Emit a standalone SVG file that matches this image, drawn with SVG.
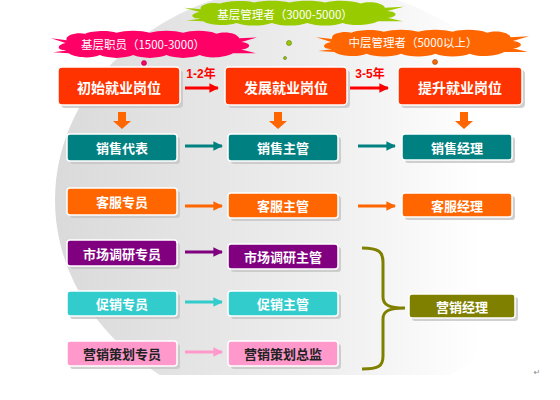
<svg xmlns="http://www.w3.org/2000/svg" width="560" height="400" viewBox="0 0 560 400">
<style>
.sh{fill:#c4c4c4;opacity:0.8}
.bx{stroke:#ffffff;stroke-width:1.5}
.t{font-family:"Noto Sans CJK SC","Noto Sans",sans-serif;font-weight:bold;fill:#ffffff;text-anchor:middle;dominant-baseline:central}
.tk{fill:#222222}
.ct{font-family:"Noto Sans CJK SC","Noto Sans",sans-serif;font-size:11.5px;fill:#ffffff;text-anchor:middle;dominant-baseline:central}
.yl{font-family:"Liberation Sans","Noto Sans CJK SC",sans-serif;font-weight:bold;font-size:12px;fill:#ff0000;text-anchor:middle}
.ln{stroke-width:3;fill:none}
</style>
<defs>
<linearGradient id="bg" x1="0" y1="0" x2="1" y2="0">
<stop offset="0" stop-color="#dadada"/>
<stop offset="0.55" stop-color="#efefef"/>
<stop offset="0.85" stop-color="#ffffff"/>
</linearGradient>
<clipPath id="cp"><rect x="0" y="0" width="560" height="375"/></clipPath>
<path id="cloud" d="M16,11 L1,9 L15,14 C6,16 6,22 16,22 L3,24 L18,25 C24,30 40,31 48,27 C56,31 72,31 80,27 C88,31 104,31 112,27 C120,31 136,31 144,27 C152,31 168,30 176,25 L198,25 L184,21 C194,20 194,14 184,13 L199,8 L182,9 C180,3 168,1 160,4 C152,0 136,0 128,3 C120,0 104,0 96,3 C88,0 72,0 64,3 C56,0 40,1 34,4 C26,2 14,5 16,11 Z"/>
<marker id="ah" viewBox="0 0 10 10" refX="9" refY="5" markerWidth="3.2" markerHeight="3.2" orient="auto" markerUnits="strokeWidth"><path d="M0,0 L10,5 L0,10 Z" fill="context-stroke"/></marker>
<marker id="aT" viewBox="0 0 10 10" refX="9" refY="5" markerWidth="3.2" markerHeight="3.2" orient="auto" markerUnits="strokeWidth"><path d="M0,0 L10,5 L0,10 Z" fill="#008080"/></marker>
<marker id="aO" viewBox="0 0 10 10" refX="9" refY="5" markerWidth="3.2" markerHeight="3.2" orient="auto" markerUnits="strokeWidth"><path d="M0,0 L10,5 L0,10 Z" fill="#ff6600"/></marker>
<marker id="aP" viewBox="0 0 10 10" refX="9" refY="5" markerWidth="3.2" markerHeight="3.2" orient="auto" markerUnits="strokeWidth"><path d="M0,0 L10,5 L0,10 Z" fill="#800080"/></marker>
<marker id="aC" viewBox="0 0 10 10" refX="9" refY="5" markerWidth="3.2" markerHeight="3.2" orient="auto" markerUnits="strokeWidth"><path d="M0,0 L10,5 L0,10 Z" fill="#33cccc"/></marker>
<marker id="aK" viewBox="0 0 10 10" refX="9" refY="5" markerWidth="3.2" markerHeight="3.2" orient="auto" markerUnits="strokeWidth"><path d="M0,0 L10,5 L0,10 Z" fill="#ff99cc"/></marker>
<marker id="aR" viewBox="0 0 10 10" refX="9" refY="5" markerWidth="3.2" markerHeight="3.2" orient="auto" markerUnits="strokeWidth"><path d="M0,0 L10,5 L0,10 Z" fill="#ff0000"/></marker>
<path id="down" d="M-4,0 L4,0 L4,9 L9,9 L0,17 L-9,9 L-4,9 Z"/>
</defs>

<rect width="560" height="400" fill="#ffffff"/>
<g clip-path="url(#cp)">
<ellipse cx="305" cy="200" rx="250" ry="215" fill="url(#bg)"/>
</g>

<!-- clouds -->
<g id="cloud-green">
<use href="#cloud" transform="translate(183,0) scale(1.11,0.85)" fill="#99cc00"/>
<text class="ct" x="285" y="14">基层管理者（3000-5000）</text>
</g>
<g id="cloud-pink">
<use href="#cloud" transform="translate(50,30) scale(1.04,0.93)" fill="#ff0066"/>
<text class="ct" x="143" y="44">基层职员（1500-3000）</text>
</g>
<g id="cloud-orange">
<use href="#cloud" transform="translate(315,29) scale(1.075,0.92)" fill="#ff6600"/>
<text class="ct" x="413" y="42">中层管理者（5000以上）</text>
</g>

<!-- connectors -->
<g id="connectors">
<line x1="185" y1="88" x2="218" y2="88" class="ln" stroke="#ff0000" marker-end="url(#aR)"/>
<line x1="350" y1="88" x2="388" y2="88" class="ln" stroke="#ff0000" marker-end="url(#aR)"/>
<text class="yl" x="201" y="78">1-2年</text>
<text class="yl" x="370" y="78">3-5年</text>
<use href="#down" x="122" y="112" fill="#ff6600"/>
<use href="#down" x="278" y="112" fill="#ff6600"/>
<use href="#down" x="464" y="112" fill="#ff6600"/>
<line x1="185" y1="146" x2="222" y2="146" class="ln" stroke="#008080" marker-end="url(#aT)"/>
<line x1="358" y1="146" x2="395" y2="146" class="ln" stroke="#008080" marker-end="url(#aT)"/>
<line x1="185" y1="206" x2="222" y2="206" class="ln" stroke="#ff6600" marker-end="url(#aO)"/>
<line x1="358" y1="206" x2="395" y2="206" class="ln" stroke="#ff6600" marker-end="url(#aO)"/>
<line x1="185" y1="252" x2="222" y2="252" class="ln" stroke="#800080" marker-end="url(#aP)"/>
<line x1="185" y1="302" x2="222" y2="302" class="ln" stroke="#33cccc" marker-end="url(#aC)"/>
<line x1="185" y1="352" x2="222" y2="352" class="ln" stroke="#ff99cc" marker-end="url(#aK)"/>
<path d="M362,248 C379,248 383,252 383,262 L383,297 C383,305 389,308 405,308 C389,308 383,311 383,319 L383,356 C383,366 379,369 362,369" stroke="#808000" stroke-width="3" fill="none"/>
<circle cx="144" cy="63" r="2.5" fill="#ff0066" stroke="#800040" stroke-width="0.5"/>
<circle cx="141" cy="71" r="1.5" fill="#ff0066" stroke="#600030" stroke-width="0.5"/>
<circle cx="139" cy="77" r="0.9" fill="#000000"/>
<circle cx="289" cy="43" r="2.5" fill="#99cc00" stroke="#556600" stroke-width="0.5"/>
<circle cx="285" cy="58" r="1.5" fill="#99cc00" stroke="#445500" stroke-width="0.5"/>
<circle cx="282" cy="72" r="0.9" fill="#000000"/>
<circle cx="435" cy="62" r="2.5" fill="#ff6600" stroke="#803300" stroke-width="0.5"/>
<circle cx="439" cy="71" r="1.5" fill="#ff6600" stroke="#602600" stroke-width="0.5"/>
<circle cx="444" cy="77" r="0.9" fill="#000000"/>
</g>

<!-- top row -->
<g id="n-chushi">
<rect class="sh" x="61" y="70" width="122" height="38" rx="4"/>
<rect class="bx" x="58" y="67" width="122" height="38" rx="4" fill="#ff3300"/>
<text class="t" x="119" y="87" font-size="14">初始就业岗位</text>
</g>
<g id="n-fazhan">
<rect class="sh" x="228" y="70" width="122" height="38" rx="4"/>
<rect class="bx" x="225" y="67" width="122" height="38" rx="4" fill="#ff3300"/>
<text class="t" x="286" y="87" font-size="14">发展就业岗位</text>
</g>
<g id="n-tisheng">
<rect class="sh" x="401" y="70" width="124" height="38" rx="4"/>
<rect class="bx" x="398" y="67" width="124" height="38" rx="4" fill="#ff3300"/>
<text class="t" x="460" y="87" font-size="14">提升就业岗位</text>
</g>

<!-- sales row -->
<g id="n-xsdb">
<rect class="sh" x="70" y="137" width="110" height="27" rx="3"/>
<rect class="bx" x="67" y="134" width="110" height="27" rx="3" fill="#008080"/>
<text class="t" x="122" y="147.5" font-size="13">销售代表</text>
</g>
<g id="n-xszg">
<rect class="sh" x="231" y="137" width="110" height="27" rx="3"/>
<rect class="bx" x="228" y="134" width="110" height="27" rx="3" fill="#008080"/>
<text class="t" x="283" y="147.5" font-size="13">销售主管</text>
</g>
<g id="n-xsjl">
<rect class="sh" x="405" y="137" width="110" height="26" rx="3"/>
<rect class="bx" x="402" y="134" width="110" height="26" rx="3" fill="#008080"/>
<text class="t" x="457" y="147" font-size="13">销售经理</text>
</g>

<!-- service row -->
<g id="n-kfzy">
<rect class="sh" x="70" y="191" width="110" height="27" rx="3"/>
<rect class="bx" x="67" y="188" width="110" height="27" rx="3" fill="#ff6600"/>
<text class="t" x="122" y="201.5" font-size="13">客服专员</text>
</g>
<g id="n-kfzg">
<rect class="sh" x="231" y="196" width="110" height="25" rx="3"/>
<rect class="bx" x="228" y="193" width="110" height="25" rx="3" fill="#ff6600"/>
<text class="t" x="283" y="205.5" font-size="13">客服主管</text>
</g>
<g id="n-kfjl">
<rect class="sh" x="405" y="196" width="110" height="24" rx="3"/>
<rect class="bx" x="402" y="193" width="110" height="24" rx="3" fill="#ff6600"/>
<text class="t" x="457" y="205" font-size="13">客服经理</text>
</g>

<!-- market research -->
<g id="n-scdyzy">
<rect class="sh" x="70" y="243" width="110" height="26" rx="3"/>
<rect class="bx" x="67" y="240" width="110" height="26" rx="3" fill="#800080"/>
<text class="t" x="122" y="253" font-size="13">市场调研专员</text>
</g>
<g id="n-scdyzg">
<rect class="sh" x="231" y="247" width="110" height="25" rx="3"/>
<rect class="bx" x="228" y="244" width="110" height="25" rx="3" fill="#800080"/>
<text class="t" x="283" y="256.5" font-size="13">市场调研主管</text>
</g>

<!-- promotion -->
<g id="n-cxzy">
<rect class="sh" x="70" y="294" width="110" height="25" rx="3"/>
<rect class="bx" x="67" y="291" width="110" height="25" rx="3" fill="#33cccc"/>
<text class="t" x="122" y="303.5" font-size="13">促销专员</text>
</g>
<g id="n-cxzg">
<rect class="sh" x="231" y="294" width="110" height="25" rx="3"/>
<rect class="bx" x="228" y="291" width="110" height="25" rx="3" fill="#33cccc"/>
<text class="t" x="283" y="303.5" font-size="13">促销主管</text>
</g>

<!-- planning -->
<g id="n-yxchzy">
<rect class="sh" x="70" y="344" width="110" height="25" rx="3"/>
<rect class="bx" x="67" y="341" width="110" height="25" rx="3" fill="#ff99cc"/>
<text class="t tk" x="122" y="353.5" font-size="13">营销策划专员</text>
</g>
<g id="n-yxchzj">
<rect class="sh" x="231" y="344" width="110" height="25" rx="3"/>
<rect class="bx" x="228" y="341" width="110" height="25" rx="3" fill="#ff99cc"/>
<text class="t tk" x="283" y="353.5" font-size="13">营销策划总监</text>
</g>

<!-- marketing manager -->
<g id="n-yxjl">
<rect class="sh" x="412" y="297" width="106" height="24" rx="3"/>
<rect class="bx" x="409" y="294" width="106" height="24" rx="3" fill="#808000"/>
<text class="t" x="462" y="306" font-size="13">营销经理</text>
</g>

<text x="537" y="375" font-family="DejaVu Sans,sans-serif" font-size="8" fill="#888888" text-anchor="middle">↵</text>
</svg>
